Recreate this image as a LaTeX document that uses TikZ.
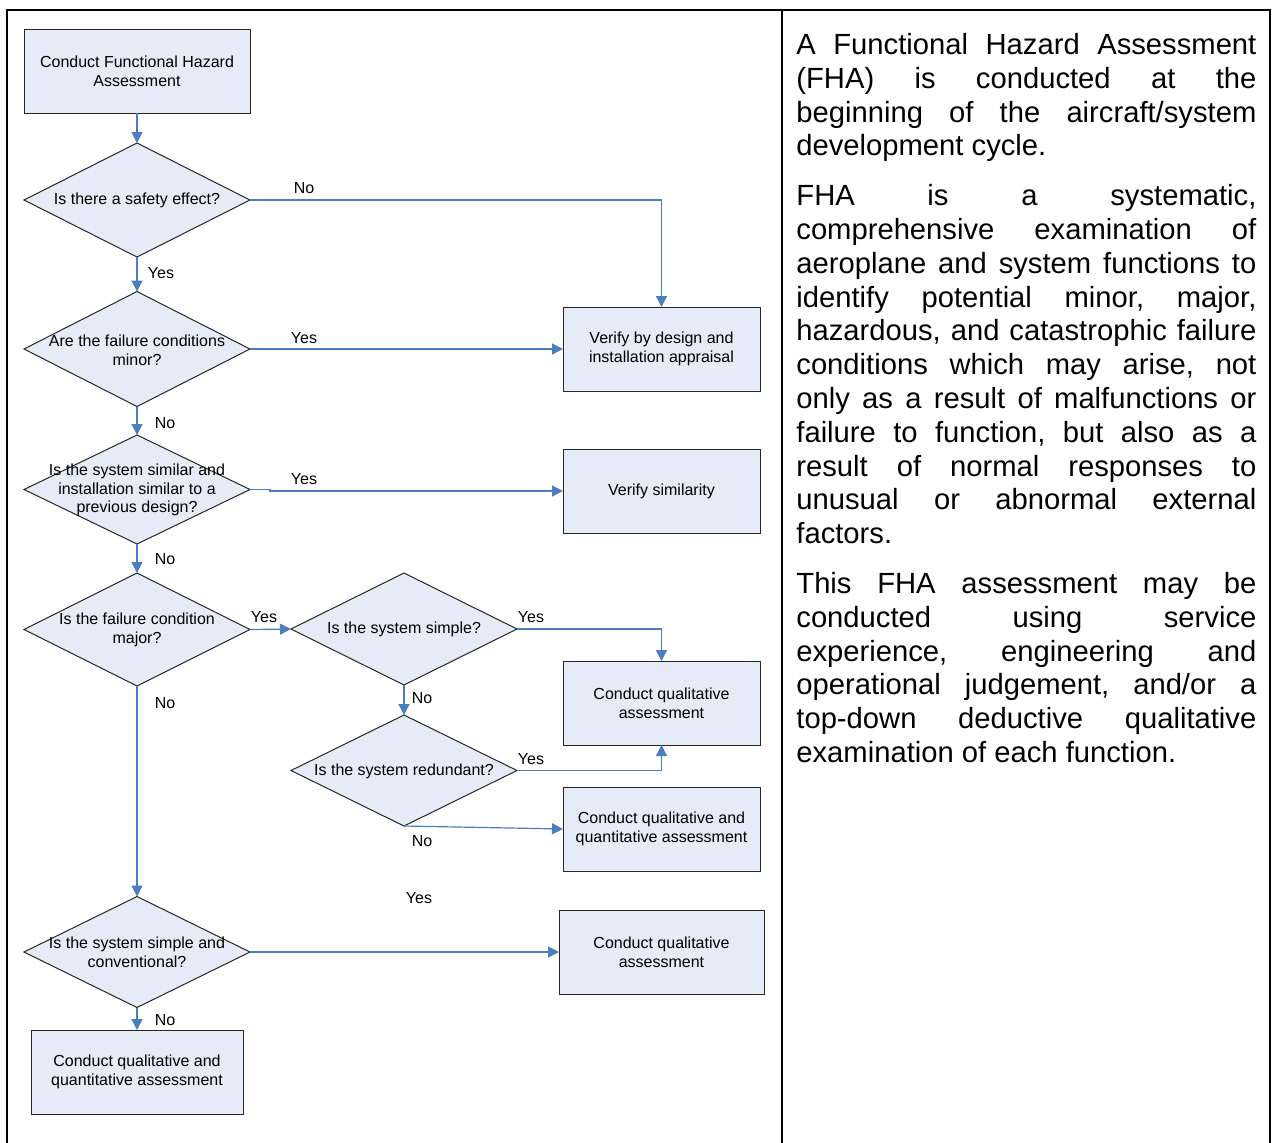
\documentclass[tikz,border=0pt]{standalone}
\usepackage{fontspec}
\setmainfont{Liberation Sans}
\usetikzlibrary{shapes.geometric,arrows.meta}
\definecolor{flowblue}{RGB}{74,126,193}
\definecolor{shapefill}{RGB}{230,236,247}
\begin{document}
\begin{tikzpicture}[x=0.5pt,y=-0.5pt,
  stepbox/.style={draw=black!85, line width=0.5pt, fill=shapefill, minimum height=42pt,
    inner sep=0pt, outer sep=0pt, font=\fontsize{8pt}{9.4pt}\selectfont, align=center},
  decision/.style={diamond, draw=black!85, line width=0.5pt, fill=shapefill,
    inner sep=0pt, outer sep=0pt, minimum width=113pt},
  qtext/.style={font=\fontsize{8pt}{9.4pt}\selectfont, align=center, inner sep=0pt},
  flow/.style={draw=flowblue, line width=0.6pt, -{Triangle[length=5.5pt,width=5.5pt]}},
  lbl/.style={font=\fontsize{8pt}{9.4pt}\selectfont, inner sep=0pt},
  frame/.style={line width=1pt}
]
\useasboundingbox (0,0) rectangle (1274,1142);

% table frame and column divider
\draw[frame] (7,1143) -- (7,10) -- (1270,10) -- (1270,1143);
\draw[frame] (782,10) -- (782,1143);

% process boxes
\node[stepbox, minimum width=113pt] (fha) at (137,71) {Conduct Functional Hazard\\Assessment};
\node[stepbox, minimum width=98.5pt] (designbox) at (661.5,349) {Verify by design and\\installation appraisal};
\node[stepbox, minimum width=98.5pt] (simbox) at (661.5,491) {Verify similarity};
\node[stepbox, minimum width=98.5pt] (qualA) at (661.5,703) {Conduct qualitative\\assessment};
\node[stepbox, minimum width=98.5pt] (quantA) at (661.5,829) {Conduct qualitative and\\quantitative assessment};
\node[stepbox, minimum width=102.5pt] (qualB) at (661.5,952) {Conduct qualitative\\assessment};
\node[stepbox, minimum width=106pt] (quantB) at (137,1072) {Conduct qualitative and\\quantitative assessment};

% decisions
\node[decision, minimum height=57pt] (safety) at (137,200) {};
\node[qtext] (safetyq) at (137,200.5) {Is there a safety effect?};
\node[decision, minimum height=57.5pt] (minor) at (137,349) {};
\node[qtext] (minorq) at (137,350) {Are the failure conditions\\minor?};
\node[decision, minimum height=54.5pt] (similar) at (137,489.5) {};
\node[qtext] (similarq) at (137,490) {Is the system similar and\\installation similar to a\\previous design?};
\node[decision, minimum height=56.5pt] (major) at (137,629.5) {};
\node[qtext] (majorq) at (137,630) {Is the failure condition\\major?};
\node[decision, minimum height=56pt] (simple) at (404,629) {};
\node[qtext] (simpleq) at (404,629.5) {Is the system simple?};
\node[decision, minimum height=55.5pt] (redund) at (404,770.5) {};
\node[qtext] (redundq) at (404,771) {Is the system redundant?};
\node[decision, minimum height=55.5pt] (conv) at (137,952) {};
\node[qtext] (convq) at (137,952.5) {Is the system simple and\\conventional?};

% connectors
\draw[flow] (fha.south) -- (safety.north);
\draw[flow] (safety.east) -| (designbox.north);
\draw[flow] (safety.south) -- (minor.north);
\draw[flow] (minor.east) -- (designbox.west);
\draw[flow] (minor.south) -- (similar.north);
\draw[flow] (similar.east) -- ++(20,0) |- (simbox.west);
\draw[flow] (similar.south) -- (major.north);
\draw[flow] (major.east) -- (simple.west);
\draw[flow] (major.south) -- (conv.north);
\draw[flow] (simple.east) -| (qualA.north);
\draw[flow] (simple.south) -- (redund.north);
\draw[flow] (redund.east) -| (qualA.south);
\draw[flow] (redund.south) -- (quantA.west);
\draw[flow] (conv.east) -- (qualB.west);
\draw[flow] (conv.south) -- (quantB.north);

% branch labels
\node[lbl] (lsafetyNo) at (304,188) {No};
\node[lbl] (lsafetyYes) at (161,273) {Yes};
\node[lbl] (lminorYes) at (304,338) {Yes};
\node[lbl] (lminorNo) at (165,423) {No};
\node[lbl] (lsimilarYes) at (304,479) {Yes};
\node[lbl] (lsimilarNo) at (165,559) {No};
\node[lbl] (lmajorYes) at (264,617) {Yes};
\node[lbl] (lmajorNo) at (165,703) {No};
\node[lbl] (lsimpleYes) at (531,617) {Yes};
\node[lbl] (lsimpleNo) at (422,698) {No};
\node[lbl] (lredundYes) at (531,759) {Yes};
\node[lbl] (lredundNo) at (422,841) {No};
\node[lbl] (lconvYes) at (419,898) {Yes};
\node[lbl] (lconvNo) at (165,1020) {No};

% explanatory text column
\node[anchor=north west, inner sep=0pt, text width=230pt, align=justify,
      font=\fontsize{14.6pt}{16.9pt}\selectfont] (fhatext) at (796,33) {%
\parindent=0pt \tolerance=10000 \hbadness=10000 \hyphenpenalty=10000 \frenchspacing
A Functional Hazard Assessment\linebreak
(FHA) is conducted at the\linebreak
beginning of the aircraft/system\linebreak
development cycle.\par\vspace{8pt}
FHA is a systematic,\linebreak
comprehensive examination of\linebreak
aeroplane and system functions to\linebreak
identify potential minor, major,\linebreak
hazardous, and catastrophic failure\linebreak
conditions which may arise, not\linebreak
only as a result of malfunctions or\linebreak
failure to function, but also as a\linebreak
result of normal responses to\linebreak
unusual or abnormal external\linebreak
factors.\par\vspace{8pt}
This FHA assessment may be\linebreak
conducted using service\linebreak
experience, engineering and\linebreak
operational judgement, and/or a\linebreak
top-down deductive qualitative\linebreak
examination of each function.};
\end{tikzpicture}
\end{document}
